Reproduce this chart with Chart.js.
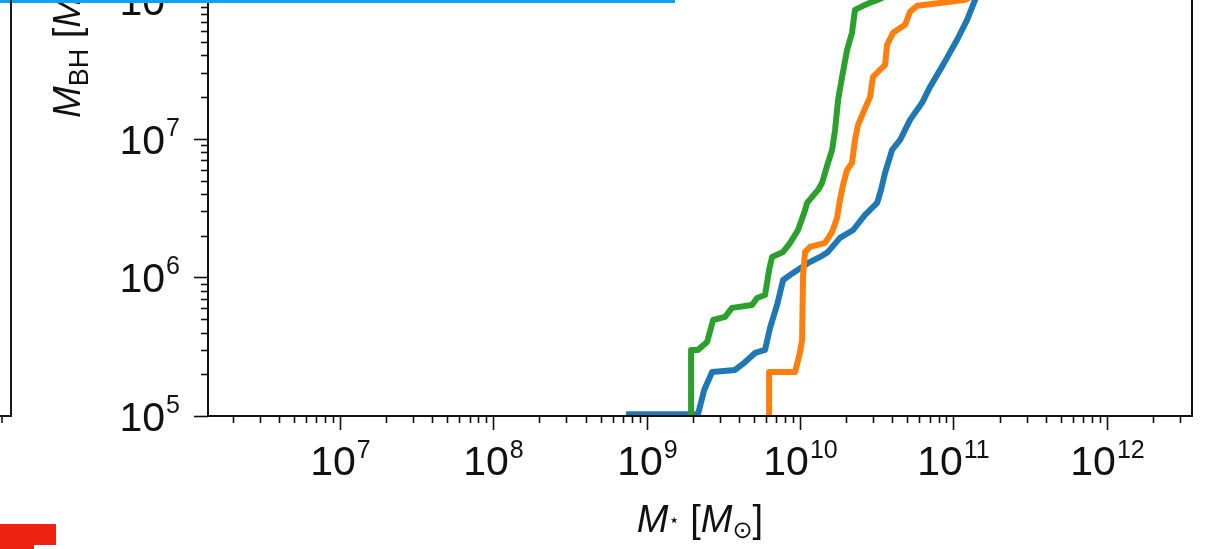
<!DOCTYPE html>
<html><head><meta charset="utf-8">
<script src="https://cdn.jsdelivr.net/npm/chart.js@4.4.1/dist/chart.umd.min.js"></script>
<style>
html,body{margin:0;padding:0;background:#fff;}
#wrap{position:relative;width:1231px;height:549px;overflow:hidden;background:#fff;}
#cv{position:absolute;left:0;top:-100px;}
.deco{position:absolute;}
</style></head><body>
<div id="wrap">
<canvas id="cv" width="1231" height="649" style="width:1231px;height:649px"></canvas>
<div class="deco" style="left:0;top:0;width:675px;height:3px;background:#0ea0f2"></div>
<div class="deco" style="left:10px;top:0;width:2px;height:417px;background:#1a1a1a"></div>
<div class="deco" style="left:0;top:415px;width:12px;height:2px;background:#1a1a1a"></div>
<div class="deco" style="left:1px;top:417px;width:2px;height:6px;background:#444"></div>
<div class="deco" style="left:0;top:524px;width:56px;height:25px;background:#ee2210"></div>
<div class="deco" style="left:34px;top:545px;width:22px;height:4px;background:#fff"></div>
</div>
<script>
// ---- data (stellar mass M*, black hole mass M_BH) ----
const blueMstar = [7.34e8, 2.16e9, 2.37e9, 2.67e9, 3.77e9, 4.38e9, 5.09e9, 5.91e9, 6.37e9, 7.08e9, 7.75e9, 9.0e9, 1.13e10, 1.35e10, 1.52e10, 1.82e10, 2.22e10, 2.65e10, 3.18e10, 3.37e10, 3.58e10, 3.98e10, 4.49e10, 5.21e10, 6.24e10, 7.03e10, 8.55e10, 1.056e11, 1.227e11, 1.383e11, 1.607e11];
const blueMbh   = [1.03e5, 1.03e5, 1.54e5, 2.08e5, 2.15e5, 2.45e5, 2.85e5, 3.0e5, 4.32e5, 6.33e5, 9.59e5, 1.078e6, 1.272e6, 1.406e6, 1.528e6, 1.928e6, 2.2e6, 2.83e6, 3.45e6, 4.28e6, 5.68e6, 8.33e6, 9.83e6, 1.371e7, 1.82e7, 2.37e7, 3.42e7, 5.19e7, 7.23e7, 1.008e8, 1.528e8];

const orangeMstar = [6.28e9, 6.28e9, 9.28e9, 1.0e10, 1.03e10, 1.046e10, 1.078e10, 1.162e10, 1.455e10, 1.617e10, 1.742e10, 1.82e10, 1.907e10, 2.025e10, 2.18e10, 2.28e10, 2.388e10, 2.575e10, 2.86e10, 2.99e10, 3.225e10, 3.58e10, 3.69e10, 4.04e10, 4.84e10, 5.21e10, 5.79e10, 9.5e10, 1.19e11, 1.607e11];
const orangeMbh   = [8.6e4, 2.08e5, 2.08e5, 2.9e5, 3.54e5, 1.042e6, 1.528e6, 1.66e6, 1.775e6, 2.13e6, 2.69e6, 3.63e6, 4.66e6, 5.97e6, 6.71e6, 9.83e6, 1.262e7, 1.541e7, 2.01e7, 2.8e7, 3.05e7, 3.42e7, 4.77e7, 5.83e7, 6.65e7, 8.26e7, 9.12e7, 9.75e7, 1.008e8, 1.19e8];

const greenMstar = [1.947e9, 1.947e9, 2.16e9, 2.476e9, 2.71e9, 3.24e9, 3.6e9, 4.86e9, 5.24e9, 5.91e9, 6.28e9, 6.57e9, 7.75e9, 8.61e9, 9.7e9, 1.078e10, 1.111e10, 1.31e10, 1.391e10, 1.52e10, 1.617e10, 1.691e10, 1.769e10, 1.878e10, 2.025e10, 2.18e10, 2.28e10, 2.575e10, 2.86e10, 3.225e10, 4.16e10];
const greenMbh   = [8.6e4, 3.0e5, 3.0e5, 3.42e5, 4.93e5, 5.19e5, 6.03e5, 6.33e5, 7.11e5, 7.47e5, 1.133e6, 1.406e6, 1.528e6, 1.775e6, 2.2e6, 3.07e6, 3.45e6, 4.28e6, 4.81e6, 6.71e6, 8.33e6, 1.161e7, 1.912e7, 2.8e7, 4.39e7, 5.83e7, 8.53e7, 9.12e7, 9.59e7, 1.008e8, 1.152e8];

const xRange = [1.38e6, 3.59e12];
const yRange = [1e5, 3.1623e8];

const FONT = '"Liberation Sans", Arial, Helvetica, sans-serif';
const pts = (xs, ys) => xs.map((x, i) => ({x: x, y: ys[i]}));

function logTicks(scale) {
  const out = [];
  const lo = Math.floor(Math.log10(scale.min)), hi = Math.ceil(Math.log10(scale.max));
  for (let e = lo; e <= hi; e++) {
    for (let m = 1; m <= 9; m++) {
      const v = m * Math.pow(10, e);
      if (v >= scale.min * 0.9999 && v <= scale.max * 1.0001) out.push({v: v, e: e, major: m === 1});
    }
  }
  return out;
}

const decoPlugin = {
  id: 'deco',
  afterDatasetsDraw(chart) {
    const ctx = chart.ctx, a = chart.chartArea;
    const xs = chart.scales.x, ys = chart.scales.y;
    ctx.save();
    ctx.strokeStyle = '#111';
    ctx.lineWidth = 2;
    ctx.strokeRect(a.left, a.top, a.right - a.left, a.bottom - a.top);
    ctx.lineWidth = 1.6;
    ctx.fillStyle = '#111';
    // x ticks
    logTicks(xs).forEach(t => {
      const px = Math.round(xs.getPixelForValue(t.v)) + 0.5;
      const len = t.major ? 14 : 7;
      ctx.beginPath(); ctx.moveTo(px, a.bottom); ctx.lineTo(px, a.bottom + len); ctx.stroke();
      if (t.major) {
        ctx.font = '41px ' + FONT;
        const w10 = ctx.measureText('10').width;
        ctx.font = '25px ' + FONT;
        const we = ctx.measureText(String(t.e)).width;
        const start = px - (w10 + 1 + we) / 2;
        ctx.textAlign = 'left'; ctx.textBaseline = 'alphabetic';
        ctx.font = '41px ' + FONT;
        ctx.fillText('10', start, a.bottom + 59);
        ctx.font = '25px ' + FONT;
        ctx.fillText(String(t.e), start + w10 + 1, a.bottom + 42);
      }
    });
    // y ticks
    logTicks(ys).forEach(t => {
      const py = Math.round(ys.getPixelForValue(t.v)) + 0.5;
      const len = t.major ? 14 : 7;
      ctx.beginPath(); ctx.moveTo(a.left, py); ctx.lineTo(a.left - len, py); ctx.stroke();
      if (t.major) {
        const right = a.left - 28;
        ctx.textAlign = 'right'; ctx.textBaseline = 'alphabetic';
        ctx.font = '25px ' + FONT;
        const we = ctx.measureText(String(t.e)).width;
        ctx.fillText(String(t.e), right, py - 4);
        ctx.font = '41px ' + FONT;
        ctx.fillText('10', right - we - 1, py + 14);
      }
    });
    // x title: M_* [M_sun]
    const parts = [
      {t: 'M', f: 'italic 38px ' + FONT, dy: 0},
      {t: '\u22C6', f: '18px "DejaVu Sans", ' + FONT, dy: -6},
      {t: ' [', f: '38px ' + FONT, dy: 0},
      {t: 'M', f: 'italic 38px ' + FONT, dy: 0},
      {t: '\u2299', f: '24px "DejaVu Sans", ' + FONT, dy: 6},
      {t: ']', f: '38px ' + FONT, dy: 0}
    ];
    let total = 0;
    parts.forEach(p => { ctx.font = p.f; p.w = ctx.measureText(p.t).width; total += p.w; });
    let cx = (a.left + a.right) / 2 - total / 2;
    const by = a.bottom + 116;
    ctx.textAlign = 'left';
    parts.forEach(p => { ctx.font = p.f; ctx.fillText(p.t, cx, by + p.dy); cx += p.w; });
    // y title: M_BH [M_sun]
    const yparts = [
      {t: 'M', f: 'italic 38px ' + FONT, dy: 0},
      {t: 'BH', f: '27px ' + FONT, dy: 8},
      {t: ' [', f: '38px ' + FONT, dy: 0},
      {t: 'M', f: 'italic 38px ' + FONT, dy: 0},
      {t: '\u2299', f: '24px "DejaVu Sans", ' + FONT, dy: 6},
      {t: ']', f: '38px ' + FONT, dy: 0}
    ];
    ctx.save();
    ctx.translate(80, a.bottom - 298);
    ctx.rotate(-Math.PI / 2);
    let ox = 0;
    yparts.forEach(p => { ctx.font = p.f; ctx.fillText(p.t, ox, p.dy); ox += ctx.measureText(p.t).width; });
    ctx.restore();
    ctx.restore();
  }
};

new Chart(document.getElementById('cv'), {
  type: 'scatter',
  data: {
    datasets: [
      {label: 'green', data: pts(greenMstar, greenMbh), borderColor: '#2ca02c', backgroundColor: '#2ca02c'},
      {label: 'orange', data: pts(orangeMstar, orangeMbh), borderColor: '#ff7f0e', backgroundColor: '#ff7f0e'},
      {label: 'blue', data: pts(blueMstar, blueMbh), borderColor: '#1f77b4', backgroundColor: '#1f77b4'}
    ].map(d => Object.assign(d, {showLine: true, pointRadius: 0, borderWidth: 6, tension: 0, borderJoinStyle: 'round', borderCapStyle: 'butt'}))
  },
  options: {
    responsive: false,
    animation: false,
    events: [],
    layout: {padding: {top: 31, right: 39, left: 0, bottom: 0}},
    plugins: {legend: {display: false}, tooltip: {enabled: false}},
    scales: {
      x: {type: 'logarithmic', min: xRange[0], max: xRange[1],
          grid: {display: false}, border: {display: false}, ticks: {display: false},
          afterFit(s) { s.height = 133; }},
      y: {type: 'logarithmic', min: yRange[0], max: yRange[1],
          grid: {display: false}, border: {display: false}, ticks: {display: false},
          afterFit(s) { s.width = 208; }}
    }
  },
  plugins: [decoPlugin]
});
</script>
</body></html>
